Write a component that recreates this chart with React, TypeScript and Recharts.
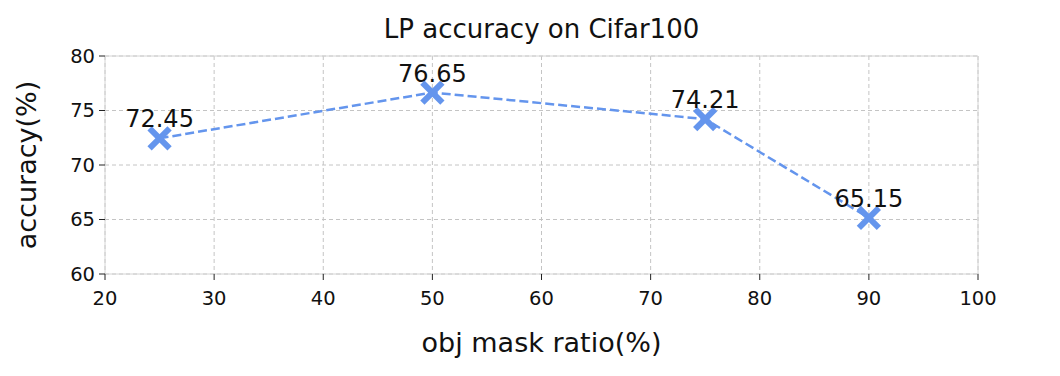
import React from 'react';
import { LineChart, Line, XAxis, YAxis, CartesianGrid, ReferenceLine, LabelList } from 'recharts';

const ratios = [25, 50, 75, 90];
const accuracy = [72.45, 76.65, 74.21, 65.15];
const xTicks = [20, 30, 40, 50, 60, 70, 80, 90, 100];
const yTicks = [60, 65, 70, 75, 80];

const data = ratios.map((r, i) => ({ ratio: r, acc: accuracy[i] }));

const BLUE = '#6495ED';
const FONT = 'DejaVu Sans, sans-serif';

const XMarker = (props: any) => {
  const { cx, cy } = props;
  if (cx == null || cy == null) return null;
  const s = 10;
  return (
    <g>
      <line x1={cx - s} y1={cy - s} x2={cx + s} y2={cy + s} stroke={BLUE} strokeWidth={6} />
      <line x1={cx - s} y1={cy + s} x2={cx + s} y2={cy - s} stroke={BLUE} strokeWidth={6} />
    </g>
  );
};

const PointLabel = (props: any) => {
  const { x, y, value } = props;
  return (
    <text x={x} y={y - 11} textAnchor="middle" fontSize={24} fill="#111" fontFamily={FONT}>
      {value.toFixed(2)}
    </text>
  );
};

const App: React.FC = () => {
  return (
    <div style={{ position: 'absolute', left: 0, top: 0, width: 1060, height: 376, background: '#fff', fontFamily: FONT }}>
      <div style={{ position: 'absolute', left: 105, width: 873, top: 14, textAlign: 'center', fontSize: 26, color: '#111' }}>
        LP accuracy on Cifar100
      </div>
      <LineChart width={1060} height={376} data={data} margin={{ top: 56, right: 82, bottom: 0, left: 0 }}>
        <CartesianGrid stroke="#c4c4c4" strokeDasharray="4 3" />
        <XAxis
          type="number"
          dataKey="ratio"
          domain={[20, 100]}
          ticks={xTicks}
          height={102}
          stroke="#d4d4d4"
          tick={{ fill: '#111', fontSize: 19.5, fontFamily: FONT }}
          tickLine={{ stroke: '#222' }}
          tickSize={6}
          tickMargin={11}
          label={{ value: 'obj mask ratio(%)', position: 'insideBottom', offset: 24, fontSize: 27, fill: '#111', fontFamily: FONT }}
        />
        <YAxis
          type="number"
          domain={[60, 80]}
          ticks={yTicks}
          width={105}
          stroke="#d4d4d4"
          tick={{ fill: '#111', fontSize: 19.5, fontFamily: FONT }}
          tickLine={{ stroke: '#222' }}
          tickSize={6}
          tickMargin={4}
          label={{ value: 'accuracy(%)', angle: -90, position: 'insideLeft', offset: 26, fontSize: 27, fill: '#111', fontFamily: FONT, style: { textAnchor: 'middle' } }}
        />
        <ReferenceLine y={80} stroke="#d4d4d4" />
        <ReferenceLine x={100} stroke="#d4d4d4" />
        <Line
          type="linear"
          dataKey="acc"
          stroke={BLUE}
          strokeWidth={2.5}
          strokeDasharray="9 4"
          dot={<XMarker />}
          activeDot={false}
          isAnimationActive={false}
        >
          <LabelList dataKey="acc" content={<PointLabel />} />
        </Line>
      </LineChart>
    </div>
  );
};

export default App;
